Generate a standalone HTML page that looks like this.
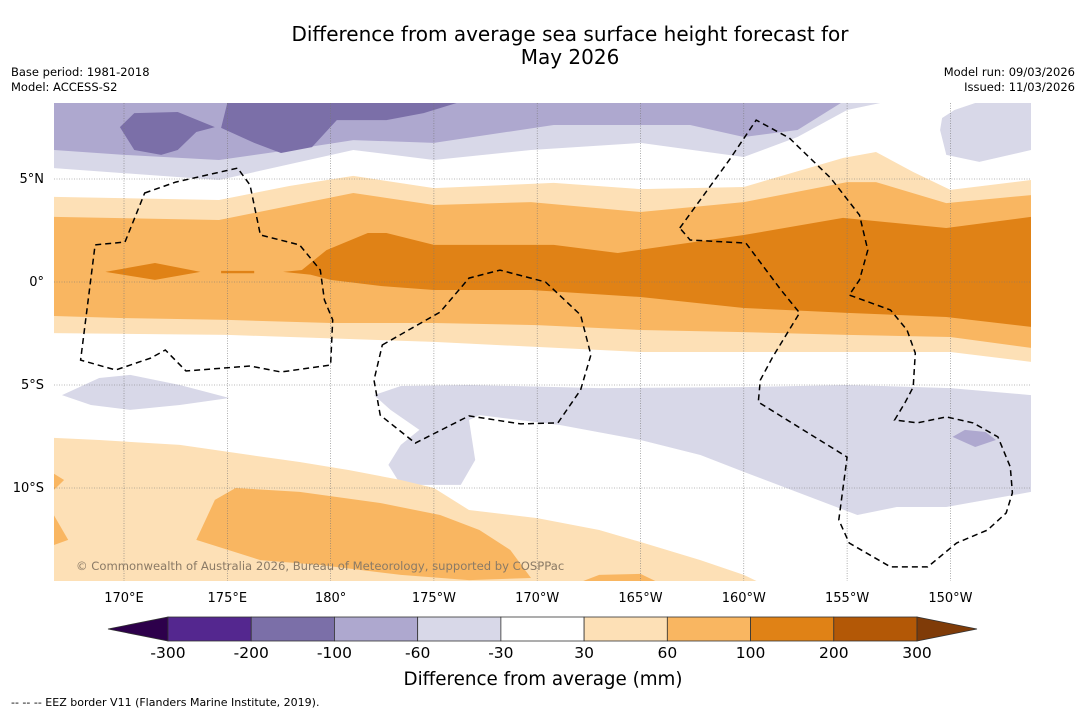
<!DOCTYPE html>
<html><head><meta charset="utf-8">
<style>
html,body{margin:0;padding:0;background:#fff;}
svg{display:block;font-family:"DejaVu Sans","Liberation Sans",sans-serif;}
</style></head>
<body>
<svg id="chart" width="1085" height="713" viewBox="0 0 1085 713" xmlns="http://www.w3.org/2000/svg">
<rect width="1085" height="713" fill="#fff"/>
<text x="570" y="41" text-anchor="middle" font-size="20" fill="#000">Difference from average sea surface height forecast for</text>
<text x="570" y="64" text-anchor="middle" font-size="20" fill="#000">May 2026</text>
<text x="11" y="76" font-size="11.5">Base period: 1981-2018</text>
<text x="11" y="91" font-size="11.5">Model: ACCESS-S2</text>
<text x="1075" y="76" font-size="11.5" text-anchor="end">Model run: 09/03/2026</text>
<text x="1075" y="91" font-size="11.5" text-anchor="end">Issued: 11/03/2026</text>
<defs><clipPath id="mapclip"><rect x="54" y="103" width="977" height="478"/></clipPath></defs>
<g id="map" clip-path="url(#mapclip)"></g>
<g id="grid"></g>
<g id="eez" clip-path="url(#mapclip)"></g>
<text x="76" y="570" font-size="11.6" fill="#8a7a66">© Commonwealth of Australia 2026, Bureau of Meteorology, supported by COSPPac</text>
<g id="axes"></g>
<g id="cbar"></g>
<text x="543" y="685" text-anchor="middle" font-size="18.3">Difference from average (mm)</text>
<text x="11" y="706" font-size="11">--  --  -- EEZ border V11 (Flanders Marine Institute, 2019).</text>
</svg>
<script>
const lonTicks = [170,175,180,185,190,195,200,205,210];
const lonLabels = ["170°E","175°E","180°","175°W","170°W","165°W","160°W","155°W","150°W"];
const latTicks = [5,0,-5,-10];
const latLabels = ["5°N","0°","5°S","10°S"];
const levels = [-300,-200,-100,-60,-30,30,60,100,200,300];
const levelColors = ["#2d004b","#54278f","#7b6fa8","#aea8cf","#d8d8e8","#ffffff","#fde0b6","#f9b661","#e08216","#b35806","#7f3b08"];

const C = {lp:"#d8d8e8", mp:"#aea8cf", dp:"#7b6fa8", lo:"#fde0b6", o:"#f9b661", do:"#e08216"};
const loTop = [[166.6,4.13],[174.6,3.98],[178,4.66],[181.1,5.15],[185,4.56],[190.8,4.81],[195,4.51],[200,4.61],[204.8,6.02],[206.4,6.31],[208.2,5.34],[210,4.47],[213.9,4.95]];
const loBottom = [[166.6,-2.48],[175,-2.57],[185,-2.91],[195,-3.40],[205,-3.40],[210,-3.40],[213.9,-3.88]];
const oTop = [[166.6,3.16],[174.6,3.01],[181.1,4.32],[185,3.74],[189.7,3.88],[195,3.40],[200,3.88],[205,4.85],[206.4,4.85],[209.8,3.83],[213.9,4.22]];
const oBottom = [[166.6,-1.65],[170,-1.75],[175,-1.84],[180,-1.99],[185,-1.99],[190,-2.09],[195,-2.33],[200,-2.43],[205,-2.57],[210,-2.67],[213.9,-3.20]];
const doPoly = [[178.5,0.49],[179.8,1.55],[181.8,2.38],[182.7,2.38],[185,1.80],[190.8,1.80],[193.9,1.41],[200,2.28],[204.8,3.11],[209.8,2.62],[213.9,3.16],[213.9,-2.18],[209.8,-1.70],[205,-1.50],[200,-1.26],[195,-0.73],[189.7,-0.39],[185,-0.39],[182.5,-0.2],[180,0.10]];
const doBlob = [[169.1,0.49],[171.5,0.92],[173.7,0.49],[171.5,0.10]];
const doSliver = [[174.7,0.54],[176.3,0.54],[176.3,0.42],[174.7,0.42]];
const doTip = [[177.7,0.49],[179,0.62],[179,0.36]];
const lpNorthEdge = [[166.6,5.53],[174.6,4.95],[181.1,6.41],[185,5.92],[189.7,6.41],[195,6.75],[200,6.07],[202.6,7.04],[205,8.35],[206.6,8.69]];
const mpNorthEdge = [[166.6,6.41],[170,6.17],[174.6,5.92],[178,6.41],[181.1,6.89],[185,6.75],[190.8,7.62],[197.4,7.62],[200,7.04],[202.6,7.38],[204.7,8.69]];
const dp1 = [[169.8,7.52],[170.5,8.20],[172.6,8.25],[174.4,7.52],[173.5,7.28],[172.6,6.41],[171.8,6.17],[170.5,6.41]];
const dp2 = [[174.7,7.48],[175,8.69],[186.1,8.69],[184.5,8.20],[182.7,7.86],[180.3,7.86],[179.1,6.55],[177.6,6.26],[176.3,6.75]];
const lpRight = [[210.2,8.35],[211.2,8.69],[213.9,8.69],[213.9,6.41],[211.4,5.83],[209.8,6.17],[209.5,7.38],[209.6,7.96]];
const lpSouth = [[182.1,-5.49],[183.4,-5.05],[186.7,-5.00],[193,-5.15],[200,-5.10],[205,-5.00],[210,-5.15],[213.9,-5.49],[213.9,-10.19],[209.8,-10.92],[207.4,-10.92],[205.5,-11.31],[200,-9.22],[197.9,-8.40],[195,-7.67],[191.1,-6.94],[187.2,-6.46],[186.7,-6.70],[187,-8.64],[186.3,-9.85],[183.4,-9.85],[182.8,-8.88],[183.4,-7.91],[184.3,-7.18],[182.9,-6.21]];
const lpLeft = [[167,-5.49],[168.8,-4.66],[170.3,-4.51],[172.7,-5.00],[175.1,-5.63],[172.7,-5.97],[170.3,-6.21],[168.4,-5.97]];
const mpSmall = [[210.1,-7.52],[210.7,-7.18],[211.7,-7.28],[212.2,-7.67],[211.2,-8.01]];
const loSouth = [[166.6,-7.57],[168.8,-7.67],[172.7,-7.91],[176.1,-8.40],[178.5,-8.74],[180.9,-9.13],[183.4,-9.61],[185,-10],[186.7,-11.07],[190,-11.46],[193,-12.04],[195,-12.62],[197.9,-13.50],[200,-14.22],[200.8,-14.6],[166.6,-14.6]];
const oSouth = [[173.5,-12.52],[174.4,-10.58],[175.4,-10],[178.5,-10.19],[182.4,-10.73],[185.3,-11.31],[187.2,-12.04],[188.7,-13.01],[189.7,-14.37],[186.7,-14.47],[183.4,-14.22],[179.5,-13.74],[176.6,-13.50]];
const oBottomBlob = [[192,-14.6],[193,-14.22],[195,-14.17],[195.9,-14.6]];
const oEdge1 = [[166.6,-9.30],[167.1,-9.61],[166.6,-10.10]];
const oEdge2 = [[166.6,-11.31],[167.3,-12.52],[166.6,-12.77]];
const eezA = [[171,4.32],[172.5,4.85],[175.5,5.53],[176.1,4.71],[176.6,2.28],[178.5,1.80],[179.5,0.58],[179.7,-0.87],[180.1,-1.84],[180,-4.03],[177.6,-4.37],[176.1,-4.08],[173,-4.32],[172,-3.30],[171.3,-3.69],[169.6,-4.27],[167.9,-3.79],[168.6,1.80],[170.05,1.94]];
const eezB = [[182.5,-3.06],[185.3,-1.46],[186.7,0.19],[188.2,0.58],[190.4,0],[192.1,-1.60],[192.6,-3.54],[192.1,-5.24],[191,-6.84],[189.2,-6.89],[186.7,-6.50],[184.1,-7.82],[182.4,-6.46],[182.1,-4.76]];
const eezC = [[196.9,2.62],[199.3,5.92],[200.6,7.86],[202.2,6.99],[204.2,5.05],[205.6,3.25],[206,1.55],[205.6,0.10],[205.1,-0.63],[207.1,-1.36],[207.9,-2.33],[208.3,-3.45],[208.2,-5.10],[207.8,-5.87],[207.3,-6.70],[208.4,-6.84],[209.8,-6.55],[211.1,-6.84],[212.3,-7.52],[212.9,-8.98],[213,-10.24],[212.7,-11.21],[211.8,-12.04],[210.3,-12.67],[208.9,-13.83],[207.1,-13.83],[205.1,-12.67],[204.6,-11.55],[205,-8.50],[200.7,-5.83],[200.8,-4.76],[201.4,-3.64],[202.7,-1.50],[201.8,-0.39],[200.1,1.89],[197.4,2.04]];

const NS = "http://www.w3.org/2000/svg";
function lonX(lon){ return 124 + (lon-170)*20.66; }
function latY(lat){ return 282 - lat*20.6; }
function pts(arr){ return arr.map(p => lonX(p[0]).toFixed(1)+","+latY(p[1]).toFixed(1)).join(" "); }
function poly(g, arr, fill, name){
  const el = document.createElementNS(NS,"polygon");
  el.setAttribute("points", pts(arr));
  el.setAttribute("fill", fill);
  
  
  g.appendChild(el);
}
const TOP = 8.9, W = 166.4;
const map = document.getElementById("map");
poly(map, [[W,TOP]].concat(lpNorthEdge).concat([[206.6,TOP]]), C.lp, "band-minus30-minus60-north");
poly(map, [[W,TOP]].concat(mpNorthEdge).concat([[204.7,TOP]]), C.mp, "band-minus60-minus100-north");
poly(map, dp1, C.dp, "band-minus100-minus200-west");
poly(map, dp2, C.dp, "band-minus100-minus200-central");
poly(map, lpRight, C.lp, "band-minus30-minus60-east");
poly(map, loTop.concat(loBottom.slice().reverse()), C.lo, "band-30-60-equator");
poly(map, oTop.concat(oBottom.slice().reverse()), C.o, "band-60-100-equator");
poly(map, doPoly, C.do, "band-100-200-equator");
poly(map, doBlob, C.do, "band-100-200-west-blob");
poly(map, doSliver, C.do, "band-100-200-sliver");
poly(map, doTip, C.do, "band-100-200-tip");
poly(map, lpSouth, C.lp, "band-minus30-minus60-south");
poly(map, lpLeft, C.lp, "band-minus30-minus60-southwest");
poly(map, mpSmall, C.mp, "band-minus60-minus100-small");
poly(map, loSouth, C.lo, "band-30-60-south");
poly(map, oSouth, C.o, "band-60-100-south");
poly(map, oBottomBlob, C.o, "band-60-100-bottom");
poly(map, oEdge1, C.o, "band-60-100-edge1");
poly(map, oEdge2, C.o, "band-60-100-edge2");

const grid = document.getElementById("grid");
const axes = document.getElementById("axes");
lonTicks.forEach((lon,i)=>{
  const x = lonX(lon);
  const l = document.createElementNS(NS,"line");
  l.setAttribute("x1",x); l.setAttribute("x2",x); l.setAttribute("y1",103); l.setAttribute("y2",581);
  l.setAttribute("stroke","#777"); l.setAttribute("stroke-width","0.6"); l.setAttribute("stroke-dasharray","1,1.5");
  
  
  grid.appendChild(l);
  const t = document.createElementNS(NS,"text");
  t.setAttribute("x",x); t.setAttribute("y",602); t.setAttribute("font-size","13"); t.setAttribute("text-anchor","middle");
  t.textContent = lonLabels[i];
  
  
  axes.appendChild(t);
});
latTicks.forEach((lat,i)=>{
  const y = latY(lat);
  const l = document.createElementNS(NS,"line");
  l.setAttribute("x1",54); l.setAttribute("x2",1031); l.setAttribute("y1",y); l.setAttribute("y2",y);
  l.setAttribute("stroke","#777"); l.setAttribute("stroke-width","0.6"); l.setAttribute("stroke-dasharray","1,1.5");
  
  
  grid.appendChild(l);
  const t = document.createElementNS(NS,"text");
  t.setAttribute("x",44); t.setAttribute("y",y+4); t.setAttribute("font-size","13"); t.setAttribute("text-anchor","end");
  t.textContent = latLabels[i];
  
  
  axes.appendChild(t);
});

const eez = document.getElementById("eez");
[eezA, eezB, eezC].forEach(arr=>{
  const p = document.createElementNS(NS,"polygon");
  p.setAttribute("points", pts(arr));
  p.setAttribute("fill","none"); p.setAttribute("stroke","#000"); p.setAttribute("stroke-width","1.5");
  p.setAttribute("stroke-dasharray","6,4");
  
  
  eez.appendChild(p);
});

const cb = document.getElementById("cbar");
const cbL = 168, cbR = 917, cbT = 617, cbB = 641, triW = 60;
const segW = (cbR-cbL)/(levels.length-1);
function cbX(i){ return cbL + i*segW; }
const lt = document.createElementNS(NS,"polygon");
lt.setAttribute("points", (cbL-triW)+","+((cbT+cbB)/2)+" "+cbL+","+cbT+" "+cbL+","+cbB);
lt.setAttribute("fill", levelColors[0]); lt.setAttribute("stroke","#333"); lt.setAttribute("stroke-width","0.8");


cb.appendChild(lt);
for(let i=0;i<levels.length-1;i++){
  const r = document.createElementNS(NS,"rect");
  r.setAttribute("x",cbX(i)); r.setAttribute("y",cbT); r.setAttribute("width",segW); r.setAttribute("height",cbB-cbT);
  r.setAttribute("fill",levelColors[i+1]); r.setAttribute("stroke","#333"); r.setAttribute("stroke-width","0.8");
  
  
  cb.appendChild(r);
}
const rt = document.createElementNS(NS,"polygon");
rt.setAttribute("points", (cbR+triW)+","+((cbT+cbB)/2)+" "+cbR+","+cbT+" "+cbR+","+cbB);
rt.setAttribute("fill", levelColors[levelColors.length-1]); rt.setAttribute("stroke","#333"); rt.setAttribute("stroke-width","0.8");


cb.appendChild(rt);
levels.forEach((v,i)=>{
  const t = document.createElementNS(NS,"text");
  t.setAttribute("x",cbX(i)); t.setAttribute("y",658); t.setAttribute("font-size","15.5"); t.setAttribute("text-anchor","middle");
  t.textContent = String(v);
  
  
  cb.appendChild(t);
});
</script>
</body></html>
